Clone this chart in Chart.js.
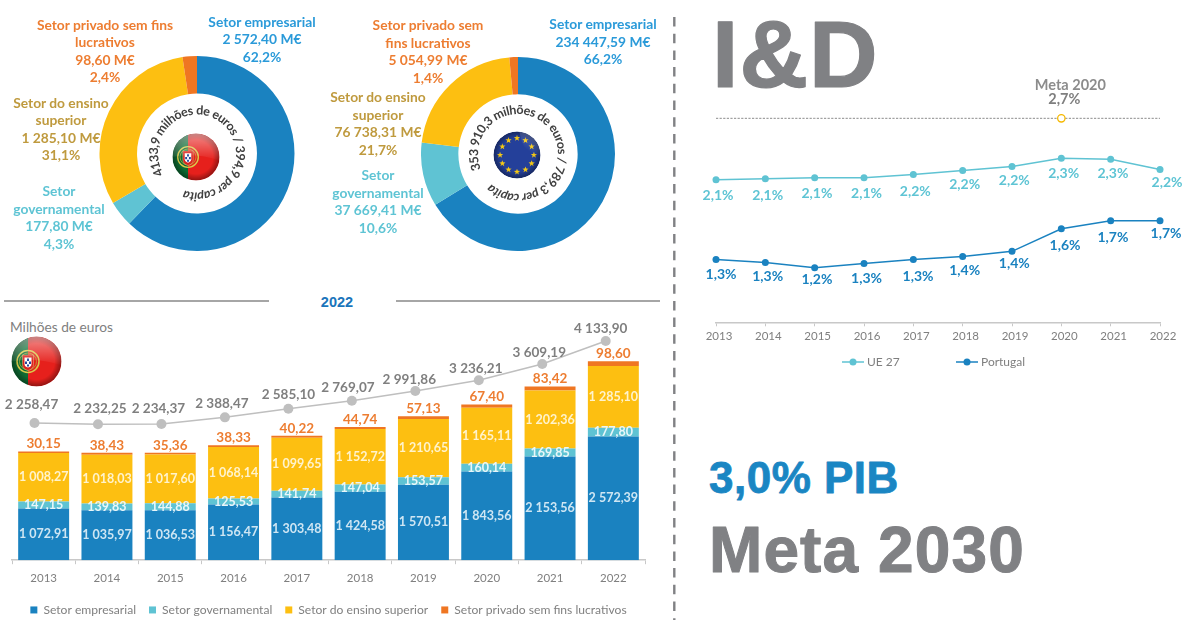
<!DOCTYPE html>
<html lang="pt">
<head>
<meta charset="utf-8">
<title>I&amp;D</title>
<script src="https://cdn.jsdelivr.net/npm/chart.js@4"></script>
<style>
html,body{margin:0;padding:0;background:#fff;}
#page{position:relative;width:1184px;height:620px;overflow:hidden;background:#fff;font-family:Lato,sans-serif;}
canvas{position:absolute;display:block;}
.pl{position:absolute;transform:translateX(-50%);text-align:center;font:700 13.8px/17.5px Lato,sans-serif;white-space:nowrap;}
.abs{position:absolute;}
svg.flag{position:absolute;overflow:visible;}
</style>
</head>
<body>
<div id="page">
<svg width="0" height="0" style="position:absolute">
  <defs>
    <radialGradient id="shade" cx="50%" cy="50%" r="50%">
      <stop offset="0.72" stop-color="#000" stop-opacity="0"/>
      <stop offset="1" stop-color="#000" stop-opacity="0.38"/>
    </radialGradient>
    <linearGradient id="glossPt" x1="0.5" y1="0" x2="0.5" y2="1">
      <stop offset="0" stop-color="#fff" stop-opacity="0.48"/>
      <stop offset="1" stop-color="#fff" stop-opacity="0"/>
    </linearGradient>
    <linearGradient id="glossEu" x1="0.8" y1="0" x2="0.3" y2="1">
      <stop offset="0" stop-color="#fff" stop-opacity="0.3"/>
      <stop offset="0.7" stop-color="#fff" stop-opacity="0"/>
    </linearGradient>
    <symbol id="flagPt" viewBox="-51 -51 102 102">
      <clipPath id="cPt"><circle r="50"/></clipPath>
      <g clip-path="url(#cPt)">
        <rect x="-50" y="-50" width="33" height="100" fill="#0d6b33"/>
        <rect x="-17" y="-50" width="67" height="100" fill="#e6201c"/>
        <circle cx="-17" cy="0" r="22" fill="none" stroke="#d8c94a" stroke-width="3"/>
        <circle cx="-17" cy="0" r="17" fill="none" stroke="#b9b13c" stroke-width="1.5"/>
        <path d="M-28 -13H-6V6Q-6 15 -17 18Q-28 15 -28 6Z" fill="#d92520" stroke="#f2e6a0" stroke-width="0.8"/>
        <path d="M-24 -8H-10V5Q-10 10 -17 12Q-24 10 -24 5Z" fill="#fff"/>
        <path d="M-19 -6h4v5h-4zM-23 0h4v5h-4zM-15 0h4v5h-4zM-19 6h4v4h-4z" fill="#24479c"/>
        <circle r="50" fill="url(#shade)"/>
        <path d="M50 0A50 50 0 0 0 -50 0Q0 -10 50 8Z" fill="url(#glossPt)"/>
      </g>
    </symbol>
    <symbol id="flagEu" viewBox="-51 -51 102 102">
      <clipPath id="cEu"><circle r="50"/></clipPath>
      <g clip-path="url(#cEu)">
        <circle r="50" fill="#24409a"/>
        <g id="euStars" fill="#f5c916"></g>
        <circle r="50" fill="url(#shade)"/>
        <path d="M5 -50A50 50 0 0 1 50 10Q15 5 5 -50Z" fill="url(#glossEu)"/>
      </g>
    </symbol>
  </defs>
</svg>

<canvas id="donutPt" style="left:99px;top:56px"></canvas>
<canvas id="donutUe" style="left:421px;top:57px"></canvas>
<svg class="flag" style="left:172px;top:133px" width="48" height="48"><use href="#flagPt" width="48" height="48"/></svg>
<svg class="flag" style="left:493px;top:131px" width="48" height="48"><use href="#flagEu" width="48" height="48"/></svg>

<div class="abs" style="left:4px;top:300px;width:265px;height:1.5px;background:#a6a6a6"></div>
<div class="abs" style="left:396px;top:300px;width:264px;height:1.5px;background:#a6a6a6"></div>
<div class="abs" style="left:300px;width:74px;top:293px;text-align:center;font:700 14.5px/18px 'Liberation Sans',sans-serif;color:#1a75bb">2022</div>
<div class="abs" style="left:10px;top:319px;font:400 13.7px/16px Lato,sans-serif;color:#808080">Milhões de euros</div>

<canvas id="bars" style="left:0;top:310px"></canvas>
<svg class="flag" style="left:11px;top:336px" width="51" height="51"><use href="#flagPt" width="51" height="51"/></svg>

<svg class="abs" style="left:670px;top:0" width="10" height="620"><line x1="4.3" y1="17" x2="4.3" y2="620" stroke="#808184" stroke-width="2.4" stroke-dasharray="9.5 7.2"/></svg>

<svg class="abs" style="left:700px;top:0" width="484" height="620" font-family="'Liberation Sans',sans-serif" font-weight="700" stroke-linejoin="round">
  <text x="12" y="87" font-size="95" letter-spacing="1" fill="#808184" stroke="#808184" stroke-width="1.2">I&amp;D</text>
  <text x="9" y="493" font-size="44" letter-spacing="0.5" fill="#1a86c3" stroke="#1a86c3" stroke-width="0.8">3,0% PIB</text>
  <text x="9" y="572" font-size="64" letter-spacing="1.1" fill="#808184" stroke="#808184" stroke-width="1">Meta 2030</text>
</svg>

<canvas id="lines" style="left:690px;top:70px"></canvas>
</div>

<script>
// ---------- data ----------
const years = ['2013','2014','2015','2016','2017','2018','2019','2020','2021','2022'];
const setorEmpresarial   = [1072.91,1035.97,1036.53,1156.47,1303.48,1424.58,1570.51,1843.56,2153.56,2572.39];
const setorGovernamental = [147.15,139.83,144.88,125.53,141.74,147.04,153.57,160.14,169.85,177.80];
const setorEnsino        = [1008.27,1018.03,1017.60,1068.14,1099.65,1152.72,1210.65,1165.11,1202.36,1285.10];
const setorPrivado       = [30.15,38.43,35.36,38.33,40.22,44.74,57.13,67.40,83.42,98.60];
const totais             = [2258.47,2232.25,2234.37,2388.47,2585.10,2769.07,2991.86,3236.21,3609.19,4133.90];

const ue27     = [2.10,2.11,2.12,2.12,2.15,2.19,2.23,2.31,2.30,2.20];
const portugal = [1.32,1.29,1.24,1.28,1.32,1.35,1.40,1.62,1.70,1.70];
const ue27Rotulos     = ['2,1%','2,1%','2,1%','2,1%','2,2%','2,2%','2,2%','2,3%','2,3%','2,2%'];
const portugalRotulos = ['1,3%','1,3%','1,2%','1,3%','1,3%','1,4%','1,4%','1,6%','1,7%','1,7%'];
const meta2020 = [2.7,2.7,2.7,2.7,2.7,2.7,2.7,2.7,2.7,2.7];

const setores = ['Setor empresarial','Setor governamental','Setor do ensino superior','Setor privado sem fins lucrativos'];
const donutPtValores = [2572.40,177.80,1285.10,98.60];
const donutUeValores = [234447.59,37669.41,76738.31,5054.99];

// ---------- style / label placement (not data) ----------
const cBlue='#1a82c0', cTeal='#5fc3d3', cYellow='#fdbf11', cOrange='#ef7622', cGrey='#7f7f7f';
const txtBlue='#2a9ad9', txtTeal='#5ec4d4', txtGold='#bf9a3e', txtOrange='#ed7d31';
const totalDx=[-3,2,-3,-3,0,-4,-6,-3,-3,-5];
const totalDy=[-18,-16,-15,-13.5,-14,-12.6,-11,-12,-11.5,-12];
const ueDx=[2,2.3,2.3,2.6,2,2,2.3,2.3,2.3,7];
const ueDy=[15.3,16.3,16,16,16.7,14,14,15.3,14,13];
const ptDx=[5,2.3,2.3,2.6,4.7,2,2.3,3.7,2.3,6];
const ptDy=[15.3,13.7,12,15,17.3,14.3,12,16.3,16.7,13.3];

const money = v => { const s=v.toFixed(2).replace('.',','); const p=s.split(','); return p[0].replace(/\B(?=(\d{3})+$)/g,' ')+','+p[1]; };

// ---------- plugins ----------
const valueLabels = {
  id:'valueLabels',
  afterDatasetsDraw(chart){
    const ctx=chart.ctx;
    chart.data.datasets.forEach((ds,i)=>{
      if(!ds.valueLabels) return;
      const meta=chart.getDatasetMeta(i);
      [].concat(ds.valueLabels).forEach(L=>{
        meta.data.forEach((el,j)=>{
          const t=L.text[j]; if(!t) return;
          const p = L.at==='center' ? el.getCenterPoint() : {x:el.x,y:el.y};
          const dx=Array.isArray(L.dx)?L.dx[j]:(L.dx||0), dy=Array.isArray(L.dy)?L.dy[j]:(L.dy||0);
          ctx.save();
          ctx.font=L.font; ctx.fillStyle=L.color; ctx.textAlign='center'; ctx.textBaseline='middle';
          ctx.fillText(t,p.x+dx,p.y+dy);
          ctx.restore();
        });
      });
    });
  }
};
const ringText = {
  id:'ringText',
  afterDraw(chart,_a,o){
    if(!o.segments) return;
    const ctx=chart.ctx, a=chart.chartArea, cx=(a.left+a.right)/2, cy=(a.top+a.bottom)/2;
    ctx.save(); ctx.translate(cx,cy); ctx.fillStyle=o.color; ctx.textAlign='center'; ctx.textBaseline='alphabetic';
    let total=0; const chars=[];
    o.segments.forEach(s=>{ ctx.font=s.font; for(const ch of s.text){ const w=ctx.measureText(ch).width; chars.push({ch,w,font:s.font}); total+=w; } });
    const k=(o.sweep*Math.PI/180)/total; let ang=o.start*Math.PI/180;
    chars.forEach(c=>{ ctx.save(); ctx.font=c.font; ctx.rotate(ang+c.w*k/2); ctx.fillText(c.ch,0,-o.radius); ctx.restore(); ang+=c.w*k; });
    ctx.restore();
  }
};
const lineLegend = {
  id:'lineLegend',
  afterDraw(chart,_a,o){
    if(!o.items) return;
    const ctx=chart.ctx;
    o.items.forEach(it=>{
      const ds=chart.data.datasets[it.dataset];
      ctx.save();
      ctx.strokeStyle=ds.borderColor; ctx.lineWidth=1.5;
      ctx.beginPath(); ctx.moveTo(it.x-11,it.y); ctx.lineTo(it.x+11,it.y); ctx.stroke();
      ctx.fillStyle=ds.pointBackgroundColor; ctx.beginPath(); ctx.arc(it.x,it.y,3.5,0,Math.PI*2); ctx.fill();
      ctx.fillStyle=cGrey; ctx.font='400 12px Lato,sans-serif'; ctx.textAlign='left'; ctx.textBaseline='middle';
      ctx.fillText(ds.label,it.x+14,it.y);
      ctx.restore();
    });
  }
};

function sizeCanvas(id,w,h){ const c=document.getElementById(id); c.width=w; c.height=h; c.style.width=w+'px'; c.style.height=h+'px'; return c; }

// ---------- stars ----------
(function(){
  let h='';
  for(let n=0;n<12;n++){
    const a=n*Math.PI/6, cx=36*Math.sin(a), cy=-36*Math.cos(a); let d='';
    for(let k=0;k<10;k++){ const r=k%2?2.9:7, b=k*Math.PI/5; d+=(k?'L':'M')+(cx+r*Math.sin(b)).toFixed(2)+' '+(cy-r*Math.cos(b)).toFixed(2); }
    h+='<path d="'+d+'Z"/>';
  }
  document.getElementById('euStars').innerHTML=h;
})();

// ---------- donut labels ----------
function pieLabel(cx,top,lines,color){
  const d=document.createElement('div'); d.className='pl';
  d.style.left=cx+'px'; d.style.top=top+'px'; d.style.color=color;
  d.innerHTML=lines.join('<br>');
  document.getElementById('page').appendChild(d);
}
pieLabel(262,12.5,['Setor empresarial','2 572,40 M€','62,2%'],txtBlue);
pieLabel(105,15.5,['Setor privado sem fins','lucrativos','98,60 M€','2,4%'],txtOrange);
pieLabel(61,93.5,['Setor do ensino','superior','1 285,10 M€','31,1%'],txtGold);
pieLabel(59,182,['Setor','governamental','177,80 M€','4,3%'],txtTeal);
pieLabel(603,15,['Setor empresarial','234 447,59 M€','66,2%'],txtBlue);
pieLabel(428,16,['Setor privado sem','fins lucrativos','5 054,99 M€','1,4%'],txtOrange);
pieLabel(378,88,['Setor do ensino','superior','76 738,31 M€','21,7%'],txtGold);
pieLabel(378,166,['Setor','governamental','37 669,41 M€','10,6%'],txtTeal);

// ---------- doughnuts ----------
function donut(id,w,h,values,ring){
  new Chart(sizeCanvas(id,w,h),{
    type:'doughnut',
    data:{labels:setores,datasets:[{data:values,backgroundColor:[cBlue,cTeal,cYellow,cOrange],borderWidth:0}]},
    options:{responsive:false,animation:false,cutout:'61.5%',layout:{padding:0},
      plugins:{legend:{display:false},tooltip:{enabled:false},ringText:ring}},
    plugins:[ringText]
  });
}
const fB='700 12.5px Lato,sans-serif', fI='italic 700 12.5px Lato,sans-serif';
donut('donutPt',196,195,donutPtValores,{color:'#404040',radius:39,start:239,sweep:320,
  segments:[{text:'4133,9 milhões de euros / 394,9 ',font:fB},{text:'per capita',font:fI}]});
donut('donutUe',194,194,donutUeValores,{color:'#404040',radius:40,start:248,sweep:334,
  segments:[{text:'353 910,3 milhões de euros / 789,3 ',font:fB},{text:'per capita',font:fI}]});

// ---------- stacked bars + total line ----------
const innerFont='700 12.5px Lato,sans-serif';
new Chart(sizeCanvas('bars',664,316),{
  data:{
    labels:years,
    datasets:[
      {type:'bar',label:setores[0],data:setorEmpresarial,backgroundColor:cBlue,grouped:false,order:2,
       valueLabels:{at:'center',text:setorEmpresarial.map(money),font:innerFont,color:'#cfe6f3'}},
      {type:'bar',label:setores[1],data:setorGovernamental,backgroundColor:cTeal,grouped:false,order:2,
       valueLabels:{at:'center',text:setorGovernamental.map(money),font:innerFont,color:'#e8f6f9'}},
      {type:'bar',label:setores[2],data:setorEnsino,backgroundColor:cYellow,grouped:false,order:2,
       valueLabels:{at:'center',text:setorEnsino.map(money),font:innerFont,color:'#fff3cc'}},
      {type:'bar',label:setores[3],data:setorPrivado,backgroundColor:cOrange,grouped:false,order:2,
       valueLabels:{at:'point',dy:-7.5,text:setorPrivado.map(money),font:'700 13.5px Lato,sans-serif',color:txtOrange}},
      {type:'line',label:'Total',data:totais.map((v,i)=>({x:i,y:v})),xAxisID:'x2',yAxisID:'y2',order:1,clip:false,
       borderColor:'#bfbfbf',borderWidth:1.5,pointRadius:5,pointBackgroundColor:'#bfbfbf',pointBorderWidth:0,tension:0,
       valueLabels:{at:'point',dx:totalDx,dy:totalDy,text:totais.map(money),font:'700 13.5px Lato,sans-serif',color:cGrey}}
    ]
  },
  options:{
    responsive:false,animation:false,
    layout:{padding:{left:12,right:19,top:10,bottom:0}},
    datasets:{bar:{categoryPercentage:1,barPercentage:0.805}},
    scales:{
      x:{stacked:true,offset:true,
         grid:{offset:true,drawOnChartArea:false,tickLength:4,tickColor:'#c8c8c8',lineWidth:1},
         border:{color:'#c8c8c8',width:1.5},
         ticks:{color:cGrey,font:{family:'Lato',size:11.5},padding:7,maxRotation:0},
         afterFit(a){a.height=30.7;}},
      y:{stacked:true,display:false,min:0,max:4992},
      x2:{type:'linear',display:false,min:-0.3545,max:9.619},
      y2:{display:false,min:-880.6,max:4616}
    },
    plugins:{
      tooltip:{enabled:false},
      legend:{position:'bottom',
        labels:{boxWidth:7,boxHeight:7,padding:13,color:'#808080',font:{family:'Lato',size:12.1},
          filter:it=>it.text!=='Total'}}
    }
  },
  plugins:[valueLabels]
});

// ---------- percentage lines ----------
const lblFont='700 14px Lato,sans-serif';
new Chart(sizeCanvas('lines',494,310),{
  type:'line',
  data:{
    labels:years,
    datasets:[
      {label:'Meta 2020',data:meta2020,borderColor:'#6d6d6d',borderWidth:0.8,borderDash:[2.2,1.4],clip:false,tension:0,
       pointRadius:years.map(y=>y==='2020'?3.7:0),pointBackgroundColor:'#fff',pointBorderColor:'#f5b800',pointBorderWidth:1.3,
       valueLabels:[
         {at:'point',text:years.map(y=>y==='2020'?'Meta 2020':''),dx:9,dy:-33,font:'700 14.5px Lato,sans-serif',color:'#8c8c8c'},
         {at:'point',text:years.map(y=>y==='2020'?'2,7%':''),dx:3,dy:-19,font:'700 14.5px Lato,sans-serif',color:'#7f7f7f'}
       ]},
      {label:'UE 27',data:ue27,borderColor:cTeal,pointBackgroundColor:cTeal,borderWidth:1.5,pointRadius:3.5,pointBorderWidth:0,clip:false,tension:0,
       valueLabels:{at:'point',text:ue27Rotulos,dx:ueDx,dy:ueDy,font:lblFont,color:txtTeal}},
      {label:'Portugal',data:portugal,borderColor:cBlue,pointBackgroundColor:cBlue,borderWidth:1.5,pointRadius:3.5,pointBorderWidth:0,clip:false,tension:0,
       valueLabels:{at:'point',text:portugalRotulos,dx:ptDx,dy:ptDy,font:lblFont,color:cBlue}}
    ]
  },
  options:{
    responsive:false,animation:false,
    layout:{padding:{left:26,right:24,top:30,bottom:37.7}},
    scales:{
      x:{offset:false,
         grid:{drawOnChartArea:false,tickLength:4,tickColor:'#c8c8c8'},
         border:{color:'#c8c8c8',width:1.5},
         ticks:{color:cGrey,font:{family:'Lato',size:11.5},padding:3,labelOffset:3,maxRotation:0,autoSkip:false},
         afterFit(a){a.height=20;}},
      y:{display:false,min:0.7065,max:2.879}
    },
    plugins:{
      tooltip:{enabled:false},legend:{display:false},
      lineLegend:{items:[{dataset:1,x:163,y:292},{dataset:2,x:277,y:292}]}
    }
  },
  plugins:[valueLabels,lineLegend]
});
</script>
</body>
</html>
